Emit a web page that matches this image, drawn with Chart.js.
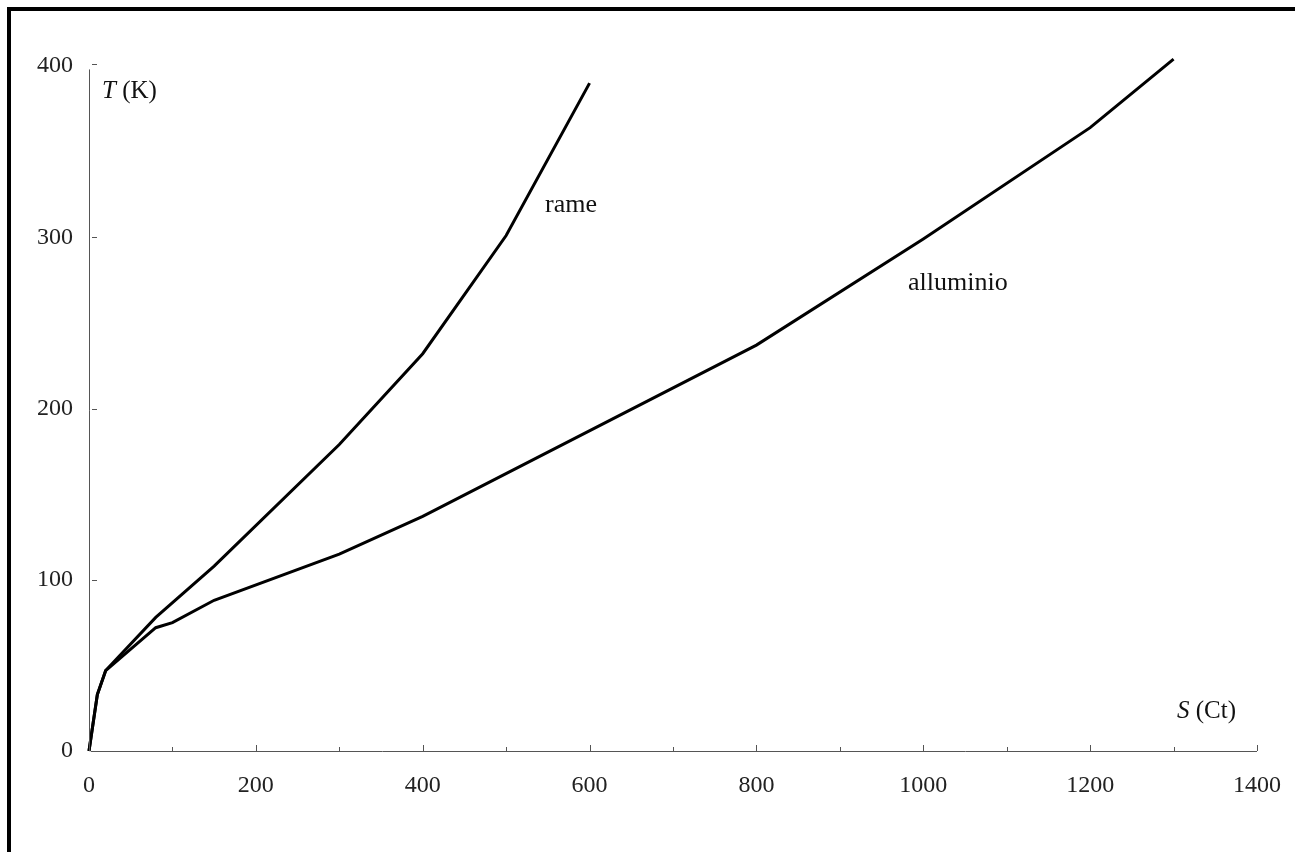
<!DOCTYPE html>
<html>
<head>
<meta charset="utf-8">
<script src="https://cdn.jsdelivr.net/npm/chart.js@4/dist/chart.umd.min.js"></script>
<style>
  html, body { margin: 0; padding: 0; background: #fff; }
  #wrap { position: relative; width: 1295px; height: 852px; }
</style>
</head>
<body>
<div id="wrap"><canvas id="myChart" width="1295" height="852"></canvas></div>
<script>
// data: S (Ct) vs T (K)
var rameS = [0, 10, 20, 80, 150, 300, 400, 500, 600];
var rameT = [0, 33, 47, 78, 108, 179, 232, 301, 390];
var allS = [0, 10, 20, 80, 100, 150, 300, 400, 800, 1000, 1200, 1300];
var allT = [0, 33, 47, 72, 75, 88, 115, 137, 237, 299, 364, 404];

var xTicks = [0, 200, 400, 600, 800, 1000, 1200, 1400];
var yTicks = [0, 100, 200, 300, 400];

var serif = "'Liberation Serif', 'DejaVu Serif', serif";

function pts(xs, ys){
    var out = [];
    for (var i = 0; i < xs.length; i++) out.push({x: xs[i], y: ys[i]});
    return out;
}

// frame, axis ticks and the text labels inside the plot
var decor = {
    id: 'decor',
    afterDraw: function(chart){
        var c = chart.ctx;
        var xs = chart.scales.x, ys = chart.scales.y;
        var x0 = xs.getPixelForValue(0), y0 = ys.getPixelForValue(0);
        c.save();
        // page frame (left + top)
        c.fillStyle = '#000';
        c.fillRect(7, 7, 4, 845);
        c.fillRect(7, 7, 1288, 4);

        c.strokeStyle = '#555';
        c.lineWidth = 1;
        // y axis line
        c.beginPath();
        c.moveTo(Math.round(x0) + 0.5, y0);
        c.lineTo(Math.round(x0) + 0.5, ys.getPixelForValue(398));
        c.stroke();
        // x axis line
        c.beginPath();
        c.moveTo(x0 + 2, Math.round(y0) + 0.5);
        c.lineTo(xs.getPixelForValue(1400), Math.round(y0) + 0.5);
        c.stroke();
        // x ticks, inside, every 100
        for (var v = 100; v <= 1400; v += 100){
            var px = Math.round(xs.getPixelForValue(v)) + 0.5;
            var len = (v % 200 === 0) ? 6 : 4;
            c.beginPath();
            c.moveTo(px, y0);
            c.lineTo(px, y0 - len);
            c.stroke();
        }
        // y ticks, inside
        for (var t = 100; t <= 400; t += 100){
            var py = Math.round(ys.getPixelForValue(t)) + 0.5;
            var dy = (t === 400) ? -2 : 0;
            c.beginPath();
            c.moveTo(x0 + 3, py + dy);
            c.lineTo(x0 + 8, py + dy);
            c.stroke();
        }

        // texts
        c.fillStyle = '#111';
        c.textBaseline = 'middle';
        c.textAlign = 'left';
        c.font = 'italic 25px ' + serif;
        c.fillText('T', 102, 91);
        var w = c.measureText('T').width;
        c.font = '25px ' + serif;
        c.fillText(' (K)', 102 + w, 91);

        c.font = 'italic 25px ' + serif;
        c.fillText('S', 1177, 711);
        w = c.measureText('S').width;
        c.font = '25px ' + serif;
        c.fillText(' (Ct)', 1177 + w, 711);

        c.font = '26px ' + serif;
        c.fillText('rame', 545, 205);
        c.fillText('alluminio', 908, 283);
        c.restore();
    }
};

var ctx = document.getElementById('myChart').getContext('2d');
var chart = new Chart(ctx, {
    type: 'scatter',
    data: {
        datasets: [{
            label: 'rame',
            data: pts(rameS, rameT),
            showLine: true,
            borderColor: '#000',
            borderWidth: 3,
            pointRadius: 0,
            clip: false
        }, {
            label: 'alluminio',
            data: pts(allS, allT),
            showLine: true,
            borderColor: '#000',
            borderWidth: 3,
            pointRadius: 0,
            clip: false
        }]
    },
    options: {
        responsive: false,
        animation: false,
        layout: { padding: { left: 0, top: 66, right: 38, bottom: 0 } },
        plugins: {
            legend: { display: false },
            tooltip: { enabled: false }
        },
        scales: {
            x: {
                type: 'linear',
                min: 0, max: 1400,
                afterBuildTicks: function(scale){
                    scale.ticks = xTicks.map(function(v){ return {value: v}; });
                },
                afterFit: function(scale){
                    scale.height = 101;
                    scale.paddingLeft = 0;
                    scale.paddingRight = 0;
                },
                grid: { display: false, drawTicks: false },
                border: { display: false },
                ticks: {
                    padding: 20,
                    color: '#222',
                    font: { family: serif, size: 24 },
                    maxRotation: 0,
                    autoSkip: false,
                    callback: function(v){ return String(v); }
                }
            },
            y: {
                type: 'linear',
                min: 0, max: 400,
                afterBuildTicks: function(scale){
                    scale.ticks = yTicks.map(function(v){ return {value: v}; });
                },
                afterFit: function(scale){
                    scale.width = 89;
                    scale.paddingTop = 0;
                    scale.paddingBottom = 0;
                },
                grid: { display: false, drawTicks: false },
                border: { display: false },
                ticks: {
                    padding: 16,
                    color: '#222',
                    font: { family: serif, size: 24 },
                    callback: function(v){ return String(v); }
                }
            }
        }
    },
    plugins: [decor]
});
</script>
</body>
</html>
